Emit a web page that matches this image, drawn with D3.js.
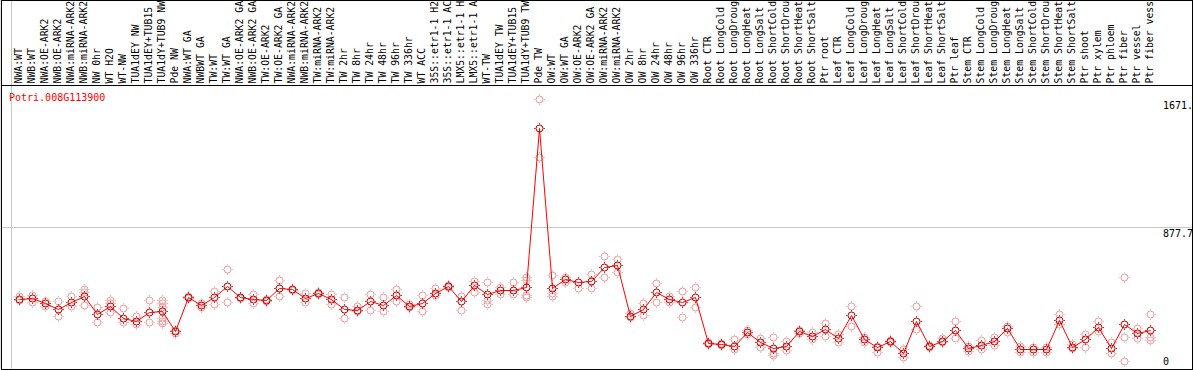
<!DOCTYPE html>
<html>
<head>
<meta charset="utf-8">
<script src="https://cdn.jsdelivr.net/npm/d3@7"></script>
<style>
  body { margin: 0; background: #fff; }
  svg { display: block; }
  text { font-family: "DejaVu Sans Mono", monospace; font-size: 10px; }
  .lab { font-size: 9.8px; }
</style>
</head>
<body>
<div id="viz"></div>
<script>
const geneName = 'Potri.008G113900';

// names as far as they show inside the header band
const samples = [
  'NWA:WT','NWB:WT','NWA:OE-ARK2','NWB:OE-ARK2','NWA:miRNA-ARK2','NWB:miRNA-ARK2','NW 0hr','WT H2O','WT-NW',
  'TUA1dEY NW','TUA1dEY+TUB15','TUA1dY+TUB9 NW','Pde NW',
  'NWA:WT GA','NWBWT GA','TW:WT','TW:WT GA','NWA:OE-ARK2 GA','NWB:OE-ARK2 GA','TW:OE-ARK2','TW:OE-ARK2 GA',
  'NWA:miRNA-ARK2','NWB:miRNA-ARK2','TW:miRNA-ARK2','TW:miRNA-ARK2','TW 2hr','TW 8hr','TW 24hr','TW 48hr',
  'TW 96hr','TW 336hr','WT ACC','35S::etr1-1 H2','35S::etr1-1 AC','LMX5::etr1-1 H','LMX5::etr1-1 A',
  'WT-TW','TUA1dEY TW','TUA1dEY+TUB15','TUA1dY+TUB9 TW','Pde TW',
  'OW:WT','OW:WT GA','OW:OE-ARK2','OW:OE-ARK2 GA','OW:miRNA-ARK2','OW:miRNA-ARK2','OW 2hr','OW 8hr',
  'OW 24hr','OW 48hr','OW 96hr','OW 336hr',
  'Root CTR','Root LongCold','Root LongDroug','Root LongHeat','Root LongSalt','Root ShortCold',
  'Root ShortDrou','Root ShortHeat','Root ShortSalt','Ptr root',
  'Leaf CTR','Leaf LongCold','Leaf LongDroug','Leaf LongHeat','Leaf LongSalt','Leaf ShortCold',
  'Leaf ShortDrou','Leaf ShortHeat','Leaf ShortSalt','Ptr leaf',
  'Stem CTR','Stem LongCold','Stem LongDroug','Stem LongHeat','Stem LongSalt','Stem ShortCold',
  'Stem ShortDrou','Stem ShortHeat','Stem ShortSalt','Ptr shoot','Ptr xylem',
  'Ptr phloem','Ptr fiber','Ptr vessel','Ptr fiber vess'
];

// how many samples sit between two grey dividers
const groupSizes = [13, 28, 12, 10, 10, 11, 1, 1, 1, 1];

const means = [
  431,437,406,371,412,451,340,389,317,297,352,359,235,
  445,396,445,513,443,433,425,499,493,437,468,433,371,363,420,394,457,391,410,470,513,420,517,464,488,488,505,1488,
  499,554,536,544,629,643,328,369,474,431,414,443,
  159,153,142,227,165,128,142,235,204,245,
  190,332,185,134,173,97,297,142,173,239,
  128,146,173,252,124,124,124,301,138,185,261,
  128,278,221,241
];

const reps = [
  [451,427],[457,416],[420,389],[420,328],[451,389],[493,478,396],[385,292],[427,410,350],[375,289],[328,278],
  [425,289],[427,406,385,313,299,282],[241,224],
  [451,437],[406,385],[482,400],[616,412],[447,437],[464,406],[430,420],[550,451],[496,488],[468,412],
  [476,464],[464,400],[443,313],[391,358],[464,365],[447,358],[494,420],[402,385],[457,357],[503,457],
  [519,507],[451,365],[546,474],[536,427,402],[509,464],[536,464],[567,550,457,447],[1671,1309],
  [581,468,451],[571,540],[503],[585,499],[698,567],[680,598],[344,320],[406,334],[530,416],[451,416],
  [484,323],[509,381],
  [169,155],[158,148],[184,122],[241,216],[193,134],[200,97,87],[175,117],[241,221],[231,184],[282,206],
  [216,169],[389,266],[200,169],[107,140],[179,167],[124,76],[389,245],[148,136],[193,167],[297,193],
  [142,113],[179,122],[200,148],[266,231],[142,103],[134,107],[134,107],[340,276],[153,128],[214,134],
  [297,237],
  [165,97],[567,200,49],[252,193],[338,200,179]
];

const yTickValues = [1671, 877.7, 0];
const yTickLabels = ['1671.', '877.7', '0'];
const yMax = 1755.4;

const W = 1194, H = 370;
const headerY = 85, bottomY = 369, plotL = 11, plotR = 1155, rightEdge = 1192.5;

const svg = d3.select('#viz').append('svg')
  .attr('width', W).attr('height', H)
  .attr('viewBox', `0 0 ${W} ${H}`);

svg.append('rect').attr('width', W).attr('height', H).attr('fill', '#fff');

const x = d3.scaleBand().domain(d3.range(samples.length)).range([plotL, plotR]).padding(0);
const px = i => Math.round(x(i) + x.bandwidth() * 0.64) + 0.5;
const y = d3.scaleLinear().domain([0, yMax]).range([bottomY, headerY]);
const py = v => Math.round(y(v)) + 0.5;

// grey grid: dividers between sample groups and the mid value line
const cuts = [0].concat(d3.cumsum(groupSizes));
svg.selectAll('.div').data(cuts).enter().append('line')
  .attr('class', 'div')
  .attr('x1', d => Math.round(d === samples.length ? plotR : x(d)) + 0.5)
  .attr('x2', d => Math.round(d === samples.length ? plotR : x(d)) + 0.5)
  .attr('y1', 0).attr('y2', bottomY)
  .attr('stroke', '#c8c8c8');

svg.append('line')
  .attr('x1', 1).attr('x2', rightEdge)
  .attr('y1', py(yTickValues[1])).attr('y2', py(yTickValues[1]))
  .attr('stroke', '#c8c8c8');

// frame + header rule
const frame = svg.append('g').attr('stroke', '#000').attr('fill', 'none').attr('shape-rendering', 'crispEdges');
frame.append('rect').attr('x', 1).attr('y', 0).attr('width', rightEdge - 1).attr('height', bottomY);
frame.append('line').attr('x1', 1).attr('x2', rightEdge).attr('y1', headerY).attr('y2', headerY);

// sample names, vertical
svg.append('g').selectAll('text').data(samples).enter().append('text')
  .attr('class', 'lab')
  .attr('transform', (d, i) => `translate(${px(i) - 0.5},${headerY - 1.5}) rotate(-90)`)
  .attr('dy', '0.35em')
  .attr('fill', '#000')
  .text(d => d);

// value labels on the right
svg.append('g').selectAll('text').data(yTickValues).enter().append('text')
  .attr('x', 1163)
  .attr('y', d => Math.min(y(d) + 10, bottomY - 4))
  .attr('fill', '#000')
  .text((d, i) => yTickLabels[i]);

svg.append('text').attr('x', 9).attr('y', 101).attr('fill', '#f00').text(geneName);

function marker(g, ring, tick) {
  g.append('circle').attr('r', 3.5).attr('fill', 'none').attr('stroke', ring);
  g.append('path')
    .attr('d', 'M0,-4V-5.5M0,4V5.5M-4,0H-5.5M4,0H5.5')
    .attr('stroke', tick).attr('stroke-width', 0.9);
}

// replicate points
const repPts = [];
reps.forEach((r, i) => r.forEach(v => repPts.push({i, v})));
svg.append('g').selectAll('g').data(repPts).enter().append('g')
  .attr('transform', d => `translate(${px(d.i)},${py(d.v)})`)
  .each(function() { marker(d3.select(this), '#eb9a9a', '#f0b4b4'); });

// mean line
svg.append('path')
  .datum(means)
  .attr('fill', 'none').attr('stroke', '#f00').attr('stroke-width', 1)
  .attr('d', d3.line().x((d, i) => px(i)).y(d => py(d)));

svg.append('g').selectAll('g').data(means).enter().append('g')
  .attr('transform', (d, i) => `translate(${px(i)},${py(d)})`)
  .each(function() { marker(d3.select(this), '#b00000', '#f00'); });
</script>
</body>
</html>
